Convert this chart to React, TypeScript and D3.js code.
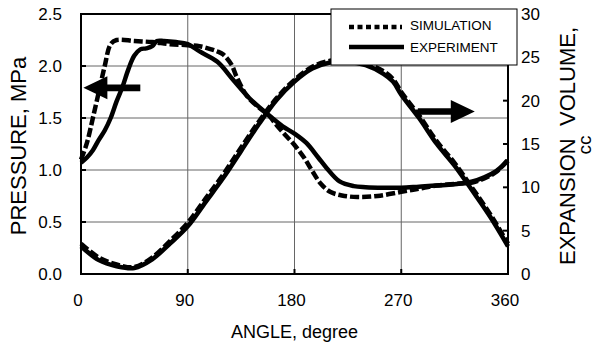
import { useEffect, useRef } from 'react';
import * as d3 from 'd3';

const WIDTH = 597;
const HEIGHT = 345;

const angleTicks = [0, 90, 180, 270, 360];
const pressureTicks = [0, 0.5, 1, 1.5, 2, 2.5];
const volumeTicks = [0, 5, 10, 15, 20, 25, 30];

// pressure, MPa (left axis)
const simPressureAngle = [0, 5, 10, 15, 20, 25, 30, 45, 60, 75, 90, 100, 110, 115, 120, 127, 131, 140, 150, 158, 165, 172, 180, 188, 195, 202, 210, 220, 233, 250, 270, 285, 300, 320, 330, 340, 350, 360];
const simPressure = [1.10, 1.26, 1.50, 1.75, 2.00, 2.21, 2.25, 2.24, 2.23, 2.21, 2.20, 2.19, 2.16, 2.14, 2.11, 2.01, 1.90, 1.71, 1.60, 1.53, 1.43, 1.34, 1.24, 1.12, 0.99, 0.87, 0.79, 0.755, 0.74, 0.75, 0.79, 0.82, 0.85, 0.87, 0.88, 0.92, 0.98, 1.10];

const expPressureAngle = [0, 5, 10, 15, 20, 25, 30, 35, 40, 45, 50, 55, 60, 64, 70, 80, 90, 100, 115, 128, 142, 158, 170, 180, 190, 200, 207, 218, 230, 240, 255, 270, 285, 300, 320, 330, 340, 350, 360];
const expPressure = [1.07, 1.12, 1.19, 1.29, 1.38, 1.50, 1.66, 1.80, 1.97, 2.10, 2.16, 2.17, 2.19, 2.24, 2.24, 2.23, 2.21, 2.14, 2.04, 1.87, 1.69, 1.53, 1.42, 1.35, 1.26, 1.12, 1.02, 0.89, 0.845, 0.835, 0.83, 0.83, 0.84, 0.85, 0.87, 0.89, 0.93, 0.99, 1.09];

// expansion volume, cc (right axis)
const volumeAngle = [0, 15, 30, 45, 60, 75, 90, 105, 120, 135, 150, 165, 180, 195, 210, 225, 240, 255, 263, 270, 285, 300, 315, 330, 345, 360];
const simVolume = [3.5, 1.9, 1.1, 0.8, 1.9, 3.8, 5.9, 8.7, 11.5, 14.6, 17.6, 20.3, 22.4, 23.9, 24.6, 24.7, 24.3, 23.4, 22.5, 21.0, 18.3, 15.3, 12.8, 9.9, 6.9, 3.5];
const expVolume = [3.2, 1.6, 0.9, 0.7, 1.7, 3.5, 5.5, 8.3, 11.1, 14.2, 17.3, 20.1, 22.2, 23.7, 24.4, 24.5, 24.1, 23.1, 22.2, 20.7, 18.0, 15.0, 12.5, 9.6, 6.6, 3.2];

const FONT = "'Liberation Sans', Arial, sans-serif";

export default function App() {
  const svgRef = useRef<SVGSVGElement | null>(null);

  useEffect(() => {
    if (!svgRef.current) return;
    const svg = d3.select(svgRef.current);
    svg.selectAll('*').remove();

    const left = 81, right = 508, top = 14, bottom = 274;

    const x = d3.scaleLinear().domain([0, 360]).range([left, right]);
    const yP = d3.scaleLinear().domain([0, 2.5]).range([bottom, top]);
    const yV = d3.scaleLinear().domain([0, 30]).range([bottom, top]);

    svg.append('rect').attr('width', WIDTH).attr('height', HEIGHT).attr('fill', '#fff');

    // grid
    const grid = svg.append('g');
    grid.selectAll('.hg')
      .data(pressureTicks.slice(1, -1))
      .enter().append('line')
      .attr('x1', left).attr('x2', right)
      .attr('y1', d => yP(d)).attr('y2', d => yP(d))
      .attr('stroke', '#666').attr('stroke-width', 1);
    grid.selectAll('.vg')
      .data(angleTicks.slice(1, -1))
      .enter().append('line')
      .attr('y1', top).attr('y2', bottom)
      .attr('x1', d => x(d)).attr('x2', d => x(d))
      .attr('stroke', '#666').attr('stroke-width', 1);

    // inner ticks
    const ticks = svg.append('g').attr('stroke', '#000').attr('stroke-width', 2);
    pressureTicks.forEach(t => {
      ticks.append('line').attr('x1', left).attr('x2', left + 5).attr('y1', yP(t)).attr('y2', yP(t));
    });
    volumeTicks.forEach(t => {
      ticks.append('line').attr('x1', right - 5).attr('x2', right).attr('y1', yV(t)).attr('y2', yV(t));
    });
    angleTicks.forEach(t => {
      ticks.append('line').attr('x1', x(t)).attr('x2', x(t)).attr('y1', bottom - 5).attr('y2', bottom);
    });

    // curves
    const line = (ang: number[], vals: number[], yScale: d3.ScaleLinear<number, number>) =>
      d3.line<number>()
        .x((d, i) => x(ang[i]))
        .y(d => yScale(d))
        .curve(d3.curveCatmullRom.alpha(0.5))(vals);

    const curves = svg.append('g').attr('fill', 'none').attr('stroke', '#000');

    curves.append('path')
      .attr('d', line(volumeAngle, simVolume, yV))
      .attr('stroke-width', 4.5)
      .attr('stroke-dasharray', '9,3');
    curves.append('path')
      .attr('d', line(simPressureAngle, simPressure, yP))
      .attr('stroke-width', 4.5)
      .attr('stroke-dasharray', '9,3');
    curves.append('path')
      .attr('d', line(volumeAngle, expVolume, yV))
      .attr('stroke-width', 4.5);
    curves.append('path')
      .attr('d', line(expPressureAngle, expPressure, yP))
      .attr('stroke-width', 4.5);

    // frame
    svg.append('rect')
      .attr('x', left).attr('y', top)
      .attr('width', right - left).attr('height', bottom - top)
      .attr('fill', 'none').attr('stroke', '#000').attr('stroke-width', 2);

    // arrows
    const arrow = (tipX: number, tailX: number, cy: number) => {
      const dir = Math.sign(tailX - tipX);
      const headLen = 24, headHalf = 11.5, shaftHalf = 3.3;
      const baseX = tipX + dir * headLen;
      const pts: [number, number][] = [
        [tipX, cy],
        [baseX, cy - headHalf],
        [baseX, cy - shaftHalf],
        [tailX, cy - shaftHalf],
        [tailX, cy + shaftHalf],
        [baseX, cy + shaftHalf],
        [baseX, cy + headHalf],
      ];
      svg.append('path')
        .attr('d', 'M' + pts.map(p => p.join(',')).join('L') + 'Z')
        .attr('fill', '#000');
    };
    arrow(x(2), x(50), yP(1.79));
    arrow(x(332), x(284), yV(18.75));

    // tick labels
    const labels = svg.append('g')
      .style('font-family', FONT)
      .style('font-size', '17px')
      .attr('fill', '#000');
    labels.selectAll('.pl')
      .data(pressureTicks)
      .enter().append('text')
      .attr('x', 62)
      .attr('y', d => yP(d))
      .attr('dy', '0.35em')
      .attr('text-anchor', 'end')
      .text(d => d3.format('.1f')(d));
    labels.selectAll('.vl')
      .data(volumeTicks)
      .enter().append('text')
      .attr('x', 521)
      .attr('y', d => yV(d))
      .attr('dy', '0.35em')
      .attr('text-anchor', 'start')
      .text(d => String(d));
    labels.selectAll('.al')
      .data(angleTicks)
      .enter().append('text')
      .attr('x', d => x(d) - 3)
      .attr('y', 306)
      .attr('text-anchor', 'middle')
      .text(d => String(d));

    // axis titles
    const titles = svg.append('g')
      .style('font-family', FONT)
      .attr('fill', '#000');
    titles.append('text')
      .attr('transform', 'translate(26,146) rotate(-90)')
      .attr('text-anchor', 'middle')
      .style('font-size', '22px')
      .text('PRESSURE, MPa');
    titles.append('text')
      .attr('transform', 'translate(575,146) rotate(-90)')
      .attr('text-anchor', 'middle')
      .style('font-size', '22px')
      .text('EXPANSION\u00a0\u00a0VOLUME,');
    titles.append('text')
      .attr('transform', 'translate(591,145) rotate(-90)')
      .attr('text-anchor', 'middle')
      .style('font-size', '19px')
      .text('cc');
    titles.append('text')
      .attr('x', (left + right) / 2)
      .attr('y', 338)
      .attr('text-anchor', 'middle')
      .style('font-size', '18px')
      .text('ANGLE, degree');

    // legend
    const legend = svg.append('g');
    legend.append('rect')
      .attr('x', 331).attr('y', 9)
      .attr('width', 186).attr('height', 56)
      .attr('fill', '#fff').attr('stroke', '#000').attr('stroke-width', 1);
    legend.append('line')
      .attr('x1', 349).attr('x2', 402).attr('y1', 27).attr('y2', 27)
      .attr('stroke', '#000').attr('stroke-width', 4.5).attr('stroke-dasharray', '5,3.5');
    legend.append('line')
      .attr('x1', 349).attr('x2', 404).attr('y1', 47).attr('y2', 47)
      .attr('stroke', '#000').attr('stroke-width', 4.5);
    legend.selectAll('.lt')
      .data(['SIMULATION', 'EXPERIMENT'])
      .enter().append('text')
      .attr('x', 410)
      .attr('y', (d, i) => 30 + i * 22)
      .style('font-family', FONT)
      .style('font-size', '13.5px')
      .attr('fill', '#000')
      .text(d => d);
  }, []);

  return (
    <svg
      ref={svgRef}
      width={WIDTH}
      height={HEIGHT}
      style={{ position: 'absolute', left: 0, top: 0, display: 'block' }}
    />
  );
}
